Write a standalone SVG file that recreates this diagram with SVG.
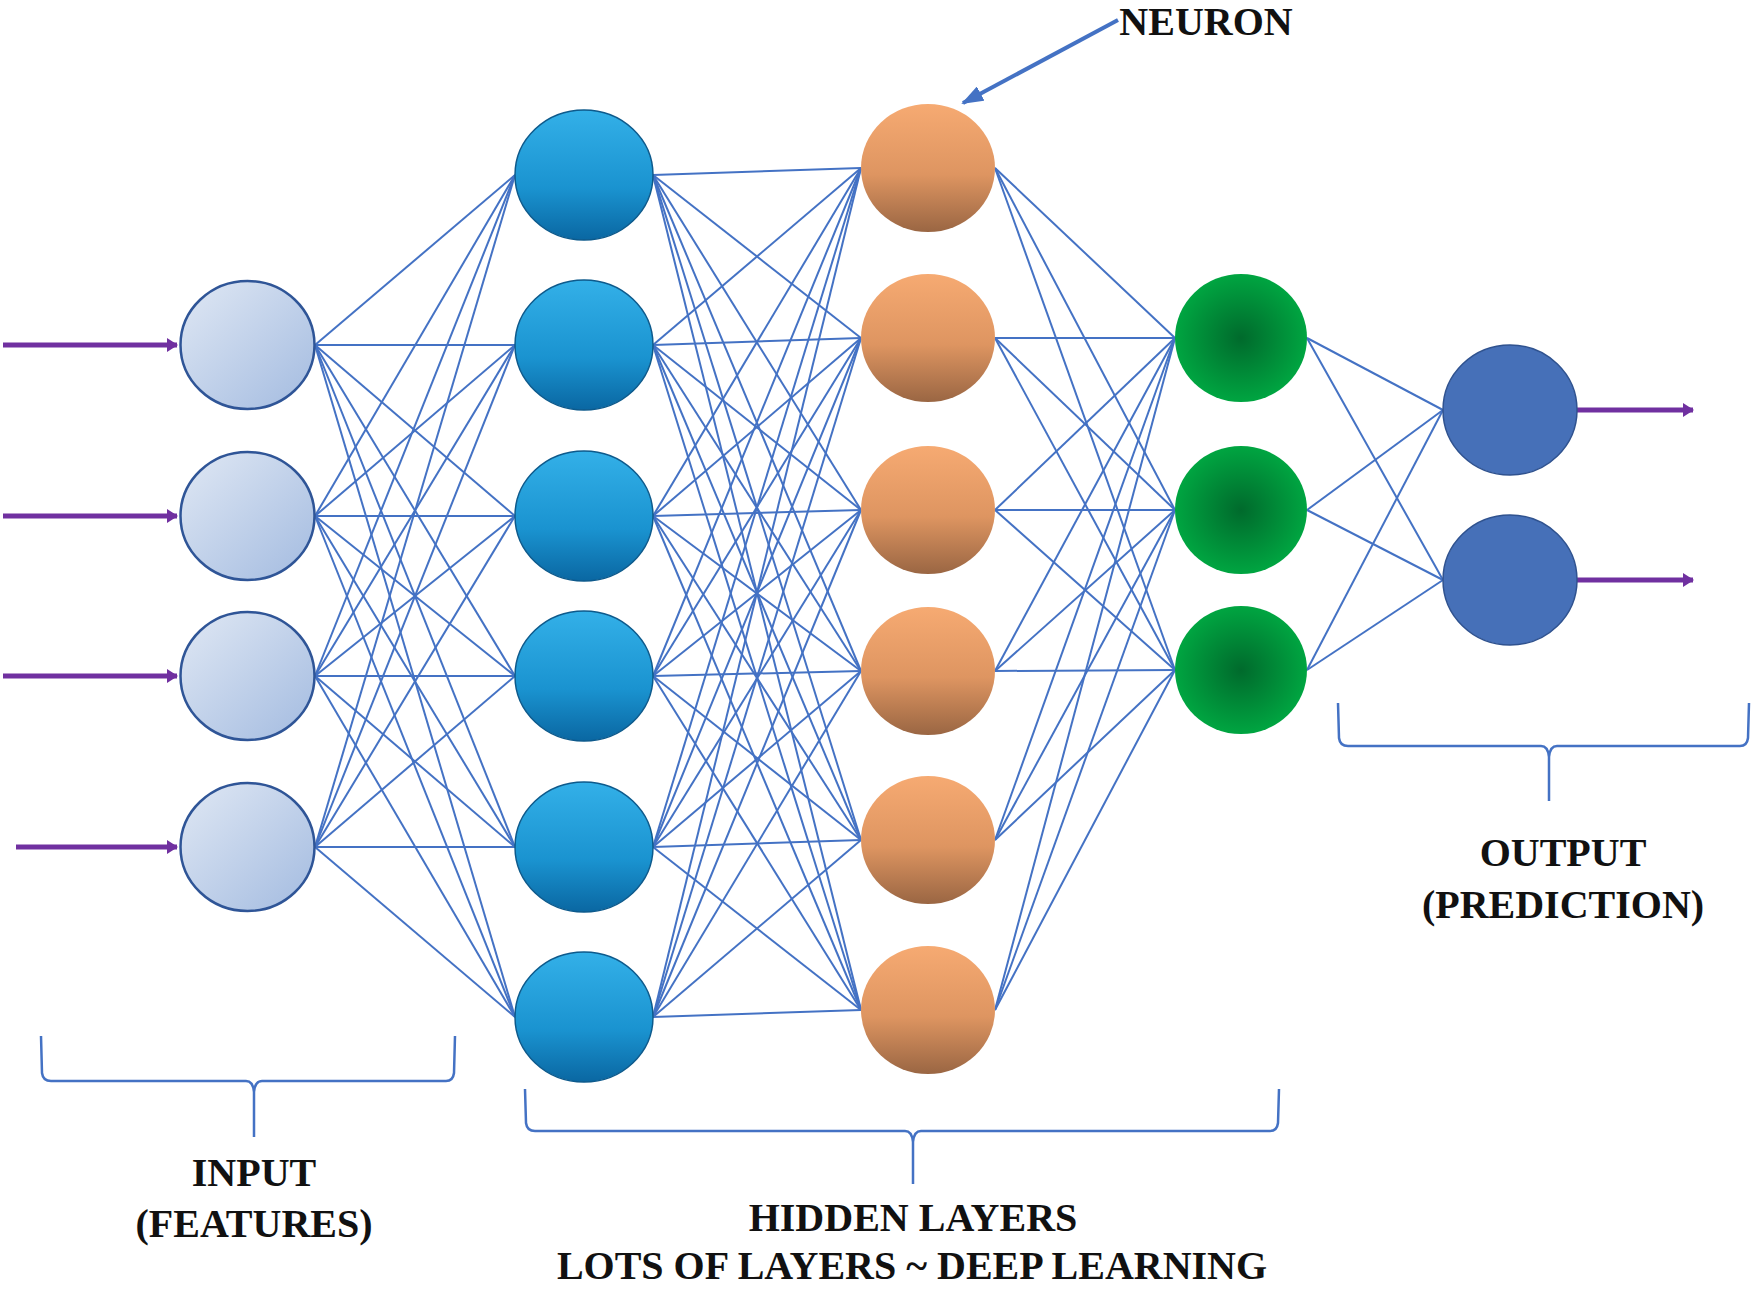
<svg xmlns="http://www.w3.org/2000/svg" width="1756" height="1289" viewBox="0 0 1756 1289">
<defs>
<style>
.lbl{font-family:"Liberation Serif","Times New Roman",serif;font-weight:bold;font-size:40px;fill:#111;text-anchor:middle}
.cn line{stroke:#4472C4;stroke-width:2}
.brace{fill:none;stroke:#4472C4;stroke-width:2.5}
.inp{fill:url(#gIn);stroke:#2F5597;stroke-width:2.5}
.h1{fill:url(#gBlue);stroke:#0d5a8c;stroke-width:1.5}
.h2{fill:url(#gOr)}
.h3{fill:url(#gGr)}
.out{fill:#4670B8;stroke:#2f528f;stroke-width:1.5}
.pa{stroke:#7030A0;stroke-width:5;fill:none}
</style>
<linearGradient id="gIn" x1="0" y1="0" x2="1" y2="1"><stop offset="0" stop-color="#e0e8f4"/><stop offset="1" stop-color="#a3bbe0"/></linearGradient>
<linearGradient id="gBlue" x1="0" y1="0" x2="0" y2="1"><stop offset="0" stop-color="#33b0e8"/><stop offset="0.6" stop-color="#1a93d0"/><stop offset="1" stop-color="#0a67a2"/></linearGradient>
<linearGradient id="gOr" x1="0" y1="0" x2="0" y2="1"><stop offset="0" stop-color="#f6aa72"/><stop offset="0.55" stop-color="#de9561"/><stop offset="1" stop-color="#9a6643"/></linearGradient>
<radialGradient id="gGr" cx="0.5" cy="0.5" r="0.5"><stop offset="0" stop-color="#006a2c"/><stop offset="1" stop-color="#00a541"/></radialGradient>
<marker id="pArr" markerUnits="userSpaceOnUse" markerWidth="12" markerHeight="14" refX="10" refY="7" orient="auto"><path d="M0,0 L11,7 L0,14 z" fill="#7030A0"/></marker>
<marker id="bArr" markerUnits="userSpaceOnUse" markerWidth="22" markerHeight="16" refX="20" refY="8" orient="auto"><path d="M0,0 L22,8 L0,16 z" fill="#4472C4"/></marker>
</defs>
<rect width="1756" height="1289" fill="#fff"/>

<g id="connectors" class="cn">
<line x1="315" y1="345" x2="515" y2="175"/><line x1="315" y1="345" x2="515" y2="345"/><line x1="315" y1="345" x2="515" y2="516"/><line x1="315" y1="345" x2="515" y2="676"/><line x1="315" y1="345" x2="515" y2="847"/><line x1="315" y1="345" x2="515" y2="1017"/>
<line x1="315" y1="516" x2="515" y2="175"/><line x1="315" y1="516" x2="515" y2="345"/><line x1="315" y1="516" x2="515" y2="516"/><line x1="315" y1="516" x2="515" y2="676"/><line x1="315" y1="516" x2="515" y2="847"/><line x1="315" y1="516" x2="515" y2="1017"/>
<line x1="315" y1="676" x2="515" y2="175"/><line x1="315" y1="676" x2="515" y2="345"/><line x1="315" y1="676" x2="515" y2="516"/><line x1="315" y1="676" x2="515" y2="676"/><line x1="315" y1="676" x2="515" y2="847"/><line x1="315" y1="676" x2="515" y2="1017"/>
<line x1="315" y1="847" x2="515" y2="175"/><line x1="315" y1="847" x2="515" y2="345"/><line x1="315" y1="847" x2="515" y2="516"/><line x1="315" y1="847" x2="515" y2="676"/><line x1="315" y1="847" x2="515" y2="847"/><line x1="315" y1="847" x2="515" y2="1017"/>

<line x1="653" y1="175" x2="861" y2="168"/><line x1="653" y1="175" x2="861" y2="338"/><line x1="653" y1="175" x2="861" y2="510"/><line x1="653" y1="175" x2="861" y2="671"/><line x1="653" y1="175" x2="861" y2="840"/><line x1="653" y1="175" x2="861" y2="1010"/>
<line x1="653" y1="345" x2="861" y2="168"/><line x1="653" y1="345" x2="861" y2="338"/><line x1="653" y1="345" x2="861" y2="510"/><line x1="653" y1="345" x2="861" y2="671"/><line x1="653" y1="345" x2="861" y2="840"/><line x1="653" y1="345" x2="861" y2="1010"/>
<line x1="653" y1="516" x2="861" y2="168"/><line x1="653" y1="516" x2="861" y2="338"/><line x1="653" y1="516" x2="861" y2="510"/><line x1="653" y1="516" x2="861" y2="671"/><line x1="653" y1="516" x2="861" y2="840"/><line x1="653" y1="516" x2="861" y2="1010"/>
<line x1="653" y1="676" x2="861" y2="168"/><line x1="653" y1="676" x2="861" y2="338"/><line x1="653" y1="676" x2="861" y2="510"/><line x1="653" y1="676" x2="861" y2="671"/><line x1="653" y1="676" x2="861" y2="840"/><line x1="653" y1="676" x2="861" y2="1010"/>
<line x1="653" y1="847" x2="861" y2="168"/><line x1="653" y1="847" x2="861" y2="338"/><line x1="653" y1="847" x2="861" y2="510"/><line x1="653" y1="847" x2="861" y2="671"/><line x1="653" y1="847" x2="861" y2="840"/><line x1="653" y1="847" x2="861" y2="1010"/>
<line x1="653" y1="1017" x2="861" y2="168"/><line x1="653" y1="1017" x2="861" y2="338"/><line x1="653" y1="1017" x2="861" y2="510"/><line x1="653" y1="1017" x2="861" y2="671"/><line x1="653" y1="1017" x2="861" y2="840"/><line x1="653" y1="1017" x2="861" y2="1010"/>

<line x1="995" y1="168" x2="1175" y2="338"/><line x1="995" y1="168" x2="1175" y2="510"/><line x1="995" y1="168" x2="1175" y2="670"/>
<line x1="995" y1="338" x2="1175" y2="338"/><line x1="995" y1="338" x2="1175" y2="510"/><line x1="995" y1="338" x2="1175" y2="670"/>
<line x1="995" y1="510" x2="1175" y2="338"/><line x1="995" y1="510" x2="1175" y2="510"/><line x1="995" y1="510" x2="1175" y2="670"/>
<line x1="995" y1="671" x2="1175" y2="338"/><line x1="995" y1="671" x2="1175" y2="510"/><line x1="995" y1="671" x2="1175" y2="670"/>
<line x1="995" y1="840" x2="1175" y2="338"/><line x1="995" y1="840" x2="1175" y2="510"/><line x1="995" y1="840" x2="1175" y2="670"/>
<line x1="995" y1="1010" x2="1175" y2="338"/><line x1="995" y1="1010" x2="1175" y2="510"/><line x1="995" y1="1010" x2="1175" y2="670"/>

<line x1="1307" y1="338" x2="1443" y2="410"/><line x1="1307" y1="338" x2="1443" y2="580"/>
<line x1="1307" y1="510" x2="1443" y2="410"/><line x1="1307" y1="510" x2="1443" y2="580"/>
<line x1="1307" y1="670" x2="1443" y2="410"/><line x1="1307" y1="670" x2="1443" y2="580"/>
</g>

<g id="io-arrows">
<line class="pa" x1="3" y1="345" x2="177" y2="345" marker-end="url(#pArr)"/>
<line class="pa" x1="3" y1="516" x2="177" y2="516" marker-end="url(#pArr)"/>
<line class="pa" x1="3" y1="676" x2="177" y2="676" marker-end="url(#pArr)"/>
<line class="pa" x1="16" y1="847" x2="177" y2="847" marker-end="url(#pArr)"/>
<line class="pa" x1="1577" y1="410" x2="1693" y2="410" marker-end="url(#pArr)"/>
<line class="pa" x1="1577" y1="580" x2="1693" y2="580" marker-end="url(#pArr)"/>
</g>

<g id="input-layer">
<ellipse id="in1" class="inp" cx="247.5" cy="345" rx="67" ry="64"/>
<ellipse id="in2" class="inp" cx="247.5" cy="516" rx="67" ry="64"/>
<ellipse id="in3" class="inp" cx="247.5" cy="676" rx="67" ry="64"/>
<ellipse id="in4" class="inp" cx="247.5" cy="847" rx="67" ry="64"/>
</g>
<g id="hidden-layer-1">
<ellipse id="h1a" class="h1" cx="584" cy="175" rx="69" ry="65"/>
<ellipse id="h1b" class="h1" cx="584" cy="345" rx="69" ry="65"/>
<ellipse id="h1c" class="h1" cx="584" cy="516" rx="69" ry="65"/>
<ellipse id="h1d" class="h1" cx="584" cy="676" rx="69" ry="65"/>
<ellipse id="h1e" class="h1" cx="584" cy="847" rx="69" ry="65"/>
<ellipse id="h1f" class="h1" cx="584" cy="1017" rx="69" ry="65"/>
</g>
<g id="hidden-layer-2">
<ellipse id="h2a" class="h2" cx="928" cy="168" rx="67" ry="64"/>
<ellipse id="h2b" class="h2" cx="928" cy="338" rx="67" ry="64"/>
<ellipse id="h2c" class="h2" cx="928" cy="510" rx="67" ry="64"/>
<ellipse id="h2d" class="h2" cx="928" cy="671" rx="67" ry="64"/>
<ellipse id="h2e" class="h2" cx="928" cy="840" rx="67" ry="64"/>
<ellipse id="h2f" class="h2" cx="928" cy="1010" rx="67" ry="64"/>
</g>
<g id="hidden-layer-3">
<ellipse id="h3a" class="h3" cx="1241" cy="338" rx="66" ry="64"/>
<ellipse id="h3b" class="h3" cx="1241" cy="510" rx="66" ry="64"/>
<ellipse id="h3c" class="h3" cx="1241" cy="670" rx="66" ry="64"/>
</g>
<g id="output-layer">
<ellipse id="out1" class="out" cx="1510" cy="410" rx="67" ry="65"/>
<ellipse id="out2" class="out" cx="1510" cy="580" rx="67" ry="65"/>
</g>

<g id="neuron-label">
<line x1="1118" y1="20" x2="963" y2="103" stroke="#4472C4" stroke-width="4" marker-end="url(#bArr)"/>
<text class="lbl" x="1206" y="35">NEURON</text>
</g>

<g id="input-label">
<path class="brace" d="M41,1036 L42,1073 Q43,1081 51,1081 L246,1081 Q253,1081 254,1092 L254,1137 M254,1092 Q255,1081 262,1081 L446,1081 Q453,1081 454,1073 L455,1036"/>
<text class="lbl" x="254" y="1186">INPUT</text>
<text class="lbl" x="254" y="1237">(FEATURES)</text>
</g>
<g id="hidden-label">
<path class="brace" d="M525,1089 L526,1123 Q527,1131 535,1131 L905,1131 Q912,1131 913,1142 L913,1184 M913,1142 Q914,1131 921,1131 L1270,1131 Q1277,1131 1278,1123 L1279,1089"/>
<text class="lbl" x="913" y="1231">HIDDEN LAYERS</text>
<text class="lbl" x="912" y="1279">LOTS OF LAYERS ~ DEEP LEARNING</text>
</g>
<g id="output-label">
<path class="brace" d="M1338,703 L1339,738 Q1340,746 1348,746 L1541,746 Q1548,746 1549,757 L1549,801 M1549,757 Q1550,746 1557,746 L1740,746 Q1747,746 1748,738 L1749,703"/>
<text class="lbl" x="1563" y="866">OUTPUT</text>
<text class="lbl" x="1563" y="918">(PREDICTION)</text>
</g>
</svg>
